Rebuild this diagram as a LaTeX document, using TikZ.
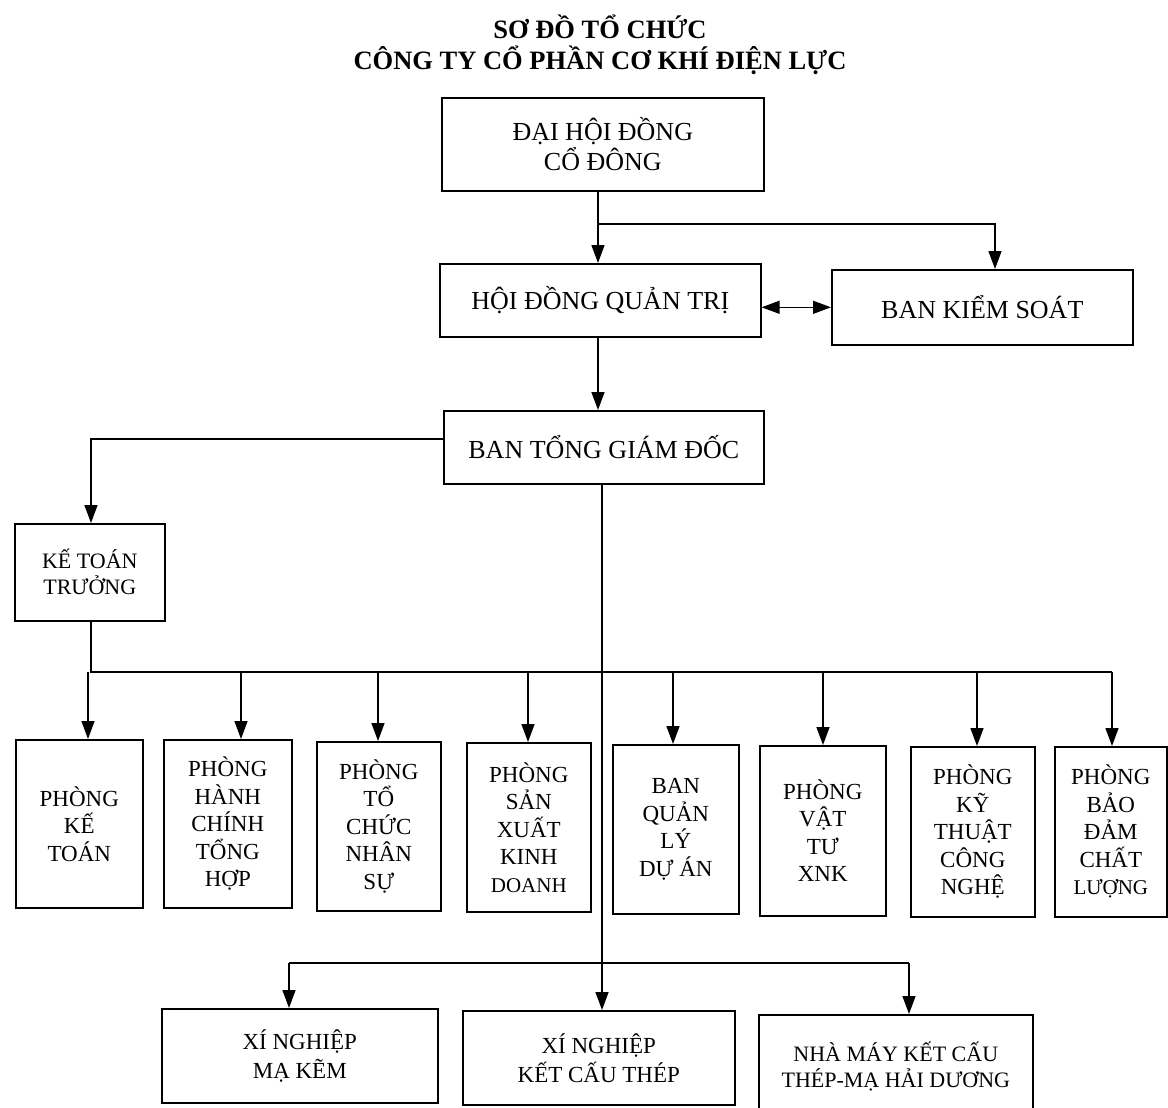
\documentclass[tikz,border=0pt]{standalone}
\usepackage{fontspec}
\setmainfont{Liberation Serif}
\usetikzlibrary{arrows.meta}
\begin{document}
\begin{tikzpicture}[x=1pt,y=-1pt,
  box/.style={draw, line width=1.6pt, inner sep=0pt, align=center, anchor=north west},
  big/.style={font=\fontsize{26}{30}\selectfont},
  mid/.style={font=\fontsize{23}{27.5}\selectfont},
  low/.style={font=\fontsize{23}{29}\selectfont},
  sm/.style={font=\fontsize{22}{26}\selectfont},
  conn/.style={line width=1.4pt},
  arr/.style={conn, -{Triangle[length=18pt,width=13pt]}},
  darr/.style={conn, {Triangle[length=18pt,width=13pt]}-{Triangle[length=18pt,width=13pt]}}
]
\clip (0,0) rectangle (1168,1108);
\fill[white] (0,0) rectangle (1168,1108);
% title
\node[font=\bfseries\fontsize{26.5}{31}\selectfont, align=center] (title) at (600,45) {SƠ ĐỒ TỔ CHỨC\\CÔNG TY CỔ PHẦN CƠ KHÍ ĐIỆN LỰC};
% top boxes
\node[box,big,minimum width=322pt,minimum height=93pt] (dhdcd) at (441,97) {ĐẠI HỘI ĐỒNG\\CỔ ĐÔNG};
\node[box,big,minimum width=321pt,minimum height=73pt] (hdqt) at (439,263) {HỘI ĐỒNG QUẢN TRỊ};
\node[box,big,minimum width=301pt,minimum height=75pt] (bks) at (831,269) {BAN KIỂM SOÁT};
\node[box,big,minimum width=320pt,minimum height=73pt] (btgd) at (443,410) {BAN TỔNG GIÁM ĐỐC};
\node[box,sm,minimum width=150pt,minimum height=97pt] (ktt) at (14,523) {KẾ TOÁN\\TRƯỞNG};
% departments
\node[box,mid,minimum width=127pt,minimum height=168pt] (d1) at (15,739) {PHÒNG\\KẾ\\TOÁN};
\node[box,mid,minimum width=128pt,minimum height=168pt] (d2) at (163,739) {PHÒNG\\HÀNH\\CHÍNH\\TỔNG\\HỢP};
\node[box,mid,minimum width=124pt,minimum height=169pt] (d3) at (316,741) {PHÒNG\\TỔ\\CHỨC\\NHÂN\\SỰ};
\node[box,mid,minimum width=124pt,minimum height=169pt] (d4) at (466,742) {PHÒNG\\SẢN\\XUẤT\\KINH\\{\fontsize{21}{27.5}\selectfont DOANH}};
\node[box,mid,minimum width=126pt,minimum height=169pt] (d5) at (612,744) {BAN\\QUẢN\\LÝ\\DỰ ÁN};
\node[box,mid,minimum width=126pt,minimum height=170pt] (d6) at (759,745) {PHÒNG\\VẬT\\TƯ\\XNK};
\node[box,mid,minimum width=124pt,minimum height=170pt] (d7) at (910,746) {PHÒNG\\KỸ\\THUẬT\\CÔNG\\NGHỆ};
\node[box,mid,minimum width=112pt,minimum height=170pt] (d8) at (1054,746) {PHÒNG\\BẢO\\ĐẢM\\CHẤT\\{\fontsize{21}{27.5}\selectfont LƯỢNG}};
% bottom boxes
\node[box,low,minimum width=276pt,minimum height=94pt] (b1) at (161,1008) {XÍ NGHIỆP\\MẠ KẼM};
\node[box,low,minimum width=272pt,minimum height=94pt] (b2) at (462,1010) {XÍ NGHIỆP\\KẾT CẤU THÉP};
\node[box,font=\fontsize{22}{26}\selectfont,minimum width=274pt,minimum height=104pt] (b3) at (758,1014) {NHÀ MÁY KẾT CẤU\\THÉP-MẠ HẢI DƯƠNG};
% connectors top
\coordinate (j1) at (598,224);
\coordinate (j1b) at (995,224);
\draw[conn] (dhdcd.south -| j1) -- (j1);
\draw[arr] (j1) -- (hdqt.north -| j1);
\draw[arr] (j1) -- (j1b) -- (bks.north -| j1b);
\draw[darr] (hdqt.east |- bks.west) -- (bks.west);
\draw[arr] (hdqt.south -| j1) -- (btgd.north -| j1);
% BTGD -> KTT
\coordinate (j2) at (91,439);
\draw[arr] (btgd.west |- j2) -- (j2) -- (ktt.north -| j2);
% KTT -> departments
\coordinate (j3) at (91,672);
\coordinate (j3e) at (1112,672);
\draw[conn] (ktt.south -| j3) -- (j3) -- (j3e);
\foreach \n/\x in {d1/88,d2/241,d3/378,d4/528,d5/673,d6/823,d7/977,d8/1112}{
  \coordinate (c\n) at (\x,672);
  \draw[arr] (c\n) -- (\n.north -| c\n);
}
% BTGD -> bottom
\coordinate (j4) at (602,963);
\coordinate (j5) at (289,963);
\coordinate (j6) at (909,963);
\draw[arr] (btgd.south -| j4) -- (b2.north -| j4);
\draw[conn] (j5) -- (j6);
\draw[arr] (j5) -- (b1.north -| j5);
\draw[arr] (j6) -- (b3.north -| j6);
\end{tikzpicture}
\end{document}
